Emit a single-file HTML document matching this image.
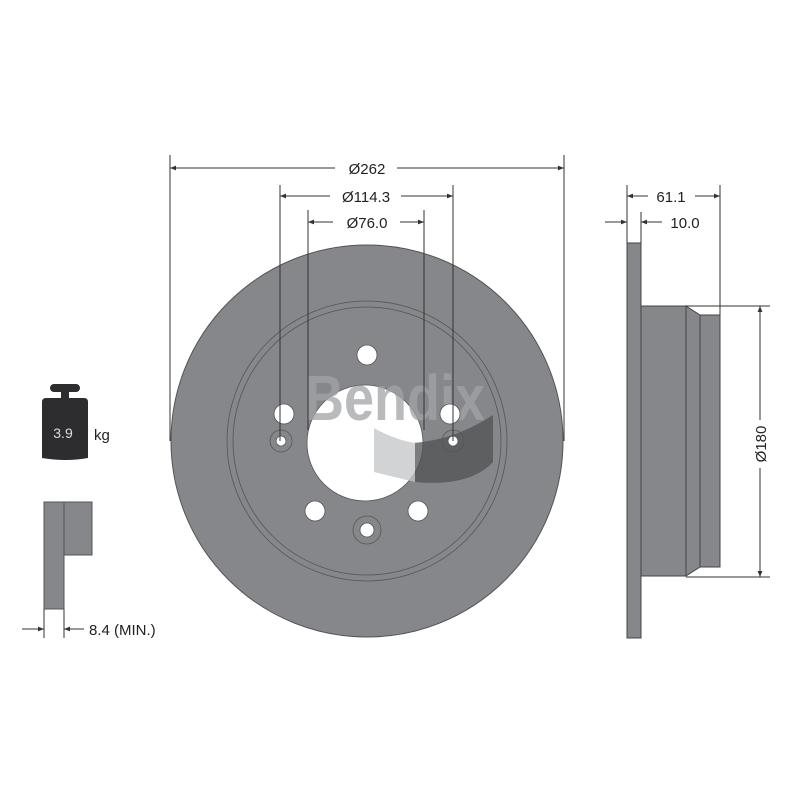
<!DOCTYPE html>
<html><head><style>body{margin:0;background:#fff}svg{display:block}text{font-family:"Liberation Sans",Arial,sans-serif}</style></head>
<body>
<svg width="800" height="800" viewBox="0 0 800 800" xmlns="http://www.w3.org/2000/svg">
<defs><marker id="a" viewBox="0 0 10 10" refX="10" refY="5" markerWidth="8" markerHeight="6" orient="auto-start-reverse"><path d="M0,1L10,5L0,9z" fill="#333"/></marker></defs>
<!-- disc -->
<circle cx="367" cy="441" r="196" fill="#85878a" stroke="#555" stroke-width="1"/>
<circle cx="367" cy="441" r="140" fill="none" stroke="#555" stroke-width="0.8"/>
<circle cx="367" cy="441" r="134" fill="none" stroke="#555" stroke-width="0.8"/>
<circle cx="365" cy="443" r="58" fill="#fff" stroke="#555" stroke-width="0.8"/>
<!-- logo -->
<g opacity="0.75">
<text x="395" y="420" text-anchor="middle" font-size="64" font-weight="bold" fill="#a2a4a6" textLength="180" lengthAdjust="spacingAndGlyphs">Bendix</text>
<path d="M413 443 Q455 440 493 415 L493 462 Q470 487 415 482 Z" fill="#505254"/>
<path d="M374 428 Q395 440 415 443 L415 482 L374 472 Z" fill="#c4c5c7"/>
</g>
<g fill="#fff" stroke="#555" stroke-width="0.8">
<circle cx="367" cy="355" r="10"/><circle cx="284" cy="414" r="10"/><circle cx="450" cy="414" r="10"/>
<circle cx="315" cy="511" r="10"/><circle cx="418" cy="511" r="10"/>
</g>
<g fill="none" stroke="#555" stroke-width="0.8">
<circle cx="281" cy="441" r="11"/><circle cx="453" cy="441" r="11"/><circle cx="367" cy="530" r="14"/>
</g>
<g fill="#fff" stroke="#555" stroke-width="0.8">
<circle cx="281" cy="441" r="5"/><circle cx="453" cy="441" r="5"/><circle cx="367" cy="530" r="7"/>
</g>
<!-- dimension lines top -->
<g stroke="#333" stroke-width="1" fill="none">
<line x1="170" y1="155" x2="170" y2="441"/><line x1="564" y1="155" x2="564" y2="441"/>
<line x1="280" y1="185" x2="280" y2="441"/><line x1="453" y1="185" x2="453" y2="441"/>
<line x1="308" y1="210" x2="308" y2="430"/><line x1="424" y1="210" x2="424" y2="430"/>
<line x1="170" y1="168" x2="335" y2="168" marker-start="url(#a)"/><line x1="397" y1="168" x2="564" y2="168" marker-end="url(#a)"/>
<line x1="280" y1="196" x2="330" y2="196" marker-start="url(#a)"/><line x1="401" y1="196" x2="453" y2="196" marker-end="url(#a)"/>
<line x1="308" y1="222" x2="333" y2="222" marker-start="url(#a)"/><line x1="400" y1="222" x2="424" y2="222" marker-end="url(#a)"/>
</g>
<g font-size="15" fill="#222" text-anchor="middle">
<text x="367" y="174">Ø262</text><text x="366" y="202">Ø114.3</text><text x="367" y="228">Ø76.0</text>
</g>
<!-- side view -->
<g fill="#85878a" stroke="#444" stroke-width="1">
<rect x="627" y="243" width="14" height="395"/>
<rect x="641" y="306" width="45" height="270"/>
<path d="M686 306 L700 315 L700 567 L686 576 Z"/>
<rect x="700" y="315" width="20" height="252"/>
</g>
<g stroke="#333" stroke-width="1" fill="none">
<line x1="627" y1="185" x2="627" y2="243"/><line x1="720" y1="185" x2="720" y2="315"/>
<line x1="641" y1="212" x2="641" y2="243"/>
<line x1="627" y1="196" x2="648" y2="196" marker-start="url(#a)"/><line x1="695" y1="196" x2="720" y2="196" marker-end="url(#a)"/>
<line x1="605" y1="222" x2="627" y2="222" marker-end="url(#a)"/><line x1="641" y1="222" x2="662" y2="222" marker-start="url(#a)"/>
<line x1="686" y1="306" x2="770" y2="306"/><line x1="686" y1="577" x2="770" y2="577"/>
<line x1="760" y1="306" x2="760" y2="420" marker-start="url(#a)"/><line x1="760" y1="468" x2="760" y2="577" marker-end="url(#a)"/>
</g>
<text x="671" y="202" font-size="15" fill="#222" text-anchor="middle">61.1</text>
<text x="685" y="228" font-size="15" fill="#222" text-anchor="middle">10.0</text>
<text transform="translate(766,444) rotate(-90)" font-size="15" fill="#222" text-anchor="middle">Ø180</text>
<!-- weight -->
<path d="M52 384 h24 a4 4 0 0 1 0 8 h-7 v6 h15 q4 0 4 4 v56 q-22 4 -46 0 v-56 q0-4 4-4 h15 v-6 h-7 a4 4 0 0 1 0-8z" fill="#2d2d2f"/>
<text x="63" y="438" font-size="14" fill="#ddd" text-anchor="middle">3.9</text>
<text x="94" y="440" font-size="15" fill="#222">kg</text>
<!-- thickness -->
<g fill="#85878a" stroke="#555" stroke-width="1">
<rect x="44" y="502" width="20" height="107"/><rect x="64" y="502" width="28" height="53"/>
</g>
<g stroke="#333" stroke-width="1" fill="none">
<line x1="44" y1="609" x2="44" y2="638"/><line x1="64" y1="609" x2="64" y2="638"/>
<line x1="22" y1="629" x2="44" y2="629" marker-end="url(#a)"/><line x1="64" y1="629" x2="84" y2="629" marker-start="url(#a)"/>
</g>
<text x="89" y="635" font-size="15" fill="#222">8.4 (MIN.)</text>
</svg>
</body></html>
